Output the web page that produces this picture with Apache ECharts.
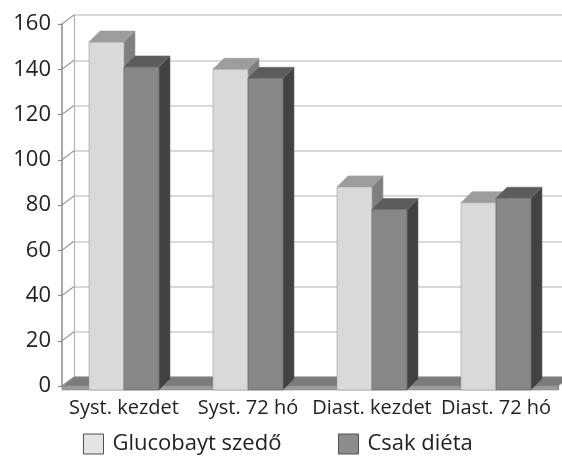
<!DOCTYPE html>
<html>
<head>
<meta charset="utf-8">
<script src="https://cdn.jsdelivr.net/npm/echarts@6/dist/echarts.min.js"></script>
<style>
  html, body { margin: 0; padding: 0; background: #ffffff; }
  #chart { width: 562px; height: 456px; }
</style>
</head>
<body>
<div id="chart"></div>
<script>
// Blood pressure at start and after 72 hours, two treatment groups
const categories = ['Syst. kezdet', 'Syst. 72 hó', 'Diast. kezdet', 'Diast. 72 hó'];
const seriesNames = ['Glucobayt szedő', 'Csak diéta'];
const glucobayValues = [152, 140, 88, 81];
const dietValues = [141, 136, 78, 83];
const tickValues = [0, 20, 40, 60, 80, 100, 120, 140, 160];

// Pseudo-3D geometry (pixels)
const WALL_DX = 12, WALL_DY = -9;   // depth of back wall
const BAR_DX = 11, BAR_DY = -11;    // depth of each column
const BAR_W = 35;
const FLOOR_T = 4;                  // floor slab thickness

const FONT = '"Open Sans", "DejaVu Sans", sans-serif';

const palettes = [
  { front: '#d9d9d9', top: '#9d9d9d', side: '#7f7f7f', edge: '#9a9a9a', legend: '#e4e4e4' },
  { front: '#878787', top: '#5c5c5c', side: '#424242', edge: '#666666', legend: '#8c8c8c' }
];

function columnRenderer(slot) {
  const pal = palettes[slot];
  return function (params, api) {
    const cat = api.value(0);
    const v = api.value(1);
    const top = api.coord([cat, v]);
    const base = api.coord([cat, 0]);
    const x0 = top[0] + (slot - 1) * BAR_W;
    const x1 = x0 + BAR_W;
    const yT = top[1];
    const yB = base[1] + FLOOR_T;
    return {
      type: 'group',
      children: [
        {
          type: 'polygon',
          shape: { points: [[x1, yT], [x1 + BAR_DX, yT + BAR_DY], [x1 + BAR_DX, yB + BAR_DY], [x1, yB]] },
          style: { fill: pal.side, stroke: pal.edge, lineWidth: 0.6 }
        },
        {
          type: 'polygon',
          shape: { points: [[x0, yT], [x1, yT], [x1 + BAR_DX, yT + BAR_DY], [x0 + BAR_DX, yT + BAR_DY]] },
          style: { fill: pal.top, stroke: pal.edge, lineWidth: 0.6 }
        },
        {
          type: 'rect',
          shape: { x: x0, y: yT, width: BAR_W, height: yB - yT },
          style: { fill: pal.front, stroke: pal.edge, lineWidth: 0.6 }
        }
      ]
    };
  };
}

function floorRenderer(params, api) {
  const cs = params.coordSys;
  const xL = cs.x, xR = cs.x + cs.width, yF = cs.y + cs.height;
  return {
    type: 'group',
    children: [
      {
        type: 'polygon',
        shape: { points: [[xL, yF], [xR, yF], [xR + WALL_DX, yF + WALL_DY], [xL + WALL_DX, yF + WALL_DY]] },
        style: { fill: '#7b7b7b', stroke: '#8a8a8a', lineWidth: 0.8 }
      },
      {
        type: 'rect',
        shape: { x: xL, y: yF, width: cs.width, height: FLOOR_T },
        style: { fill: '#9c9c9c', stroke: '#8a8a8a', lineWidth: 0.6 }
      }
    ]
  };
}

function wallTickRenderer(params, api) {
  const cs = params.coordSys;
  const y = api.coord([0, api.value(1)])[1];
  return {
    type: 'line',
    shape: { x1: cs.x, y1: y, x2: cs.x + WALL_DX, y2: y + WALL_DY },
    style: { stroke: '#9a9a9a', lineWidth: 1.2 }
  };
}

const chart = echarts.init(document.getElementById('chart'), null, { renderer: 'canvas' });

const legendCommon = {
  top: 428,
  orient: 'horizontal',
  icon: 'rect',
  itemWidth: 20,
  itemHeight: 20,
  selectedMode: false,
  textStyle: { fontFamily: FONT, fontSize: 22, color: '#222222', padding: [0, 0, 0, 4] },
  itemStyle: { borderColor: '#505050', borderWidth: 1 }
};

chart.setOption({
  animation: false,
  backgroundColor: '#ffffff',
  legend: [
    Object.assign({ left: 78, data: [seriesNames[0]] }, legendCommon),
    Object.assign({ left: 333, data: [seriesNames[1]] }, legendCommon)
  ],
  grid: [
    { left: 62, top: 24, width: 496, height: 362 },
    { left: 62 + WALL_DX, top: 24 + WALL_DY, width: 496, height: 362 }
  ],
  xAxis: [
    {
      type: 'category',
      gridIndex: 0,
      data: categories,
      offset: FLOOR_T,
      axisLine: { show: false },
      axisTick: { show: true, length: 4, interval: 0, lineStyle: { color: '#8a8a8a', width: 1.2 } },
      axisLabel: { interval: 0, margin: 8, fontFamily: FONT, fontSize: 20, color: '#222222' },
      splitLine: { show: false }
    },
    {
      type: 'category',
      gridIndex: 1,
      data: categories,
      show: false
    }
  ],
  yAxis: [
    {
      type: 'value',
      gridIndex: 0,
      min: 0,
      max: 160,
      interval: 20,
      axisLine: { show: true, lineStyle: { color: '#8a8a8a', width: 1.5 } },
      axisTick: { show: true, length: 4, lineStyle: { color: '#8a8a8a', width: 1.2 } },
      axisLabel: { margin: 11, fontFamily: FONT, fontSize: 22, color: '#222222' },
      splitLine: { show: false }
    },
    {
      type: 'value',
      gridIndex: 1,
      min: 0,
      max: 160,
      interval: 20,
      axisLine: { show: true, lineStyle: { color: '#b4b4b4', width: 1.2 } },
      axisTick: { show: false },
      axisLabel: { show: false },
      splitLine: { show: true, lineStyle: { color: '#cccccc', width: 1.5 } }
    }
  ],
  series: [
    {
      type: 'custom',
      name: 'floor',
      xAxisIndex: 0,
      yAxisIndex: 0,
      z: 1,
      silent: true,
      renderItem: floorRenderer,
      data: [[0, 0]]
    },
    {
      type: 'custom',
      name: 'wallTicks',
      xAxisIndex: 0,
      yAxisIndex: 0,
      z: 1,
      silent: true,
      renderItem: wallTickRenderer,
      encode: { x: 0, y: 1 },
      data: tickValues.map(v => [0, v])
    },
    {
      type: 'custom',
      name: seriesNames[0],
      xAxisIndex: 0,
      yAxisIndex: 0,
      z: 3,
      itemStyle: { color: palettes[0].legend },
      renderItem: columnRenderer(0),
      encode: { x: 0, y: 1 },
      data: glucobayValues.map((v, i) => [i, v])
    },
    {
      type: 'custom',
      name: seriesNames[1],
      xAxisIndex: 0,
      yAxisIndex: 0,
      z: 4,
      itemStyle: { color: palettes[1].legend },
      renderItem: columnRenderer(1),
      encode: { x: 0, y: 1 },
      data: dietValues.map((v, i) => [i, v])
    }
  ]
});
</script>
</body>
</html>
